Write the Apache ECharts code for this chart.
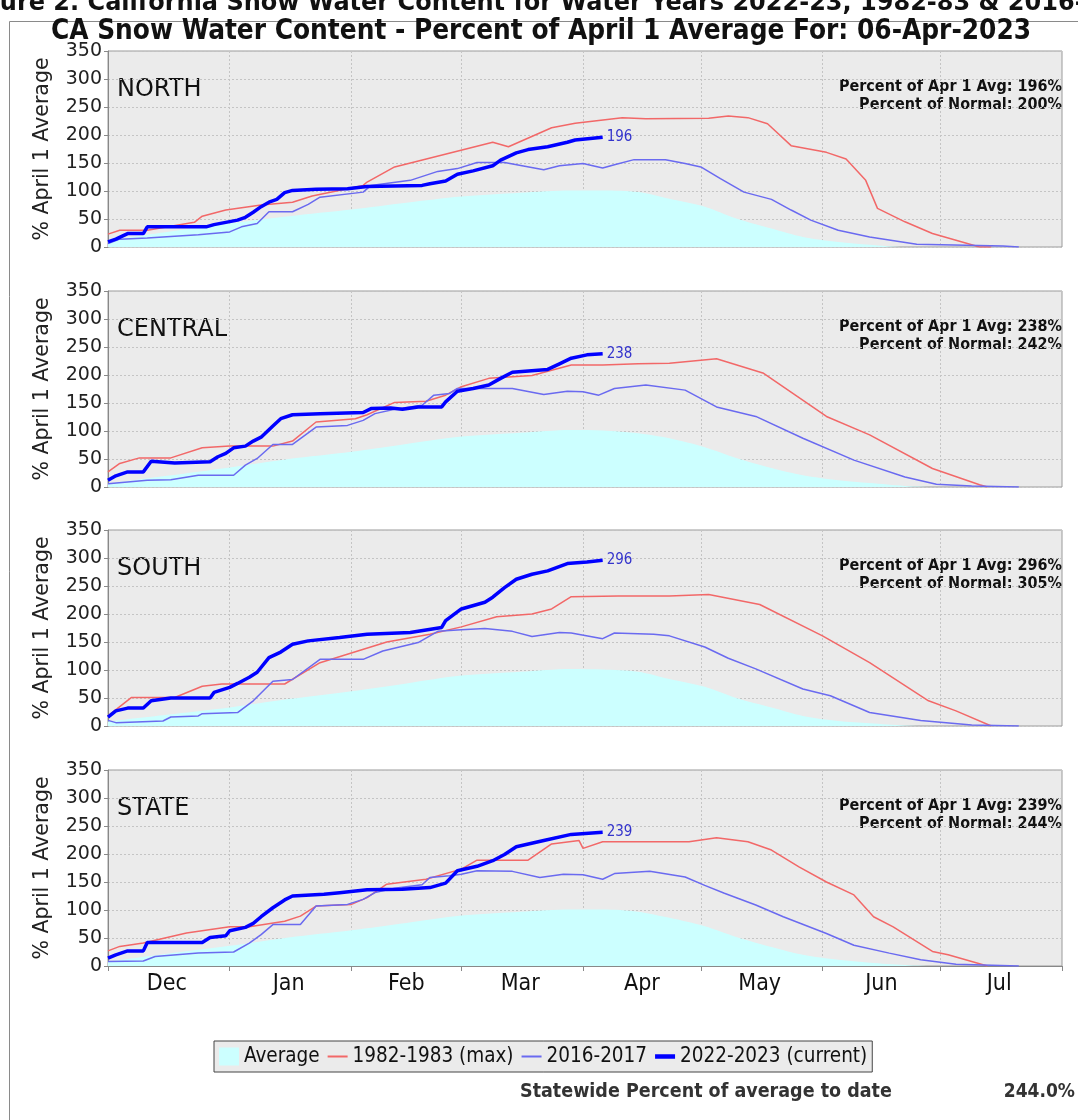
<!DOCTYPE html>
<html>
<head>
<meta charset="utf-8">
<script src="https://cdn.jsdelivr.net/npm/echarts@6/dist/echarts.min.js"></script>
<style>
html,body{margin:0;padding:0;background:#fff;}
#chart{width:1078px;height:1120px;}
</style>
</head>
<body>
<div id="chart"></div>
<script>
// x values: days since 2022-12-01 (category index on the daily axis)
const panelNames = ['NORTH', 'CENTRAL', 'SOUTH', 'STATE'];
const pctApr1 = [196, 238, 296, 239];
const pctNormal = [200, 242, 305, 244];
const monthLabels = ['Dec', 'Jan', 'Feb', 'Mar', 'Apr', 'May', 'Jun', 'Jul'];
const monthNums = ['12', '01', '02', '03', '04', '05', '06', '07'];
const legendNames = ['Average', '1982-1983 (max)', '2016-2017', '2022-2023 (current)'];
const statewideToDate = '244.0%';

const northAvg = [[0,12],[15,27],[31,42],[46,55],[62,67],[76,79],[90,90],[105,97],[118,101],[126,101],[135,98],[143,86],[152,72],[160,51],[169,33],[177,18],[186,9],[194,4],[203,0],[243,0]];
const north1983 = [[0,23],[3,30],[10,30],[22,44],[24,55],[30,66],[39,75],[47,80],[52,91],[65,110],[66,116],[73,143],[98,187],[102,179],[113,213],[119,221],[125,226],[131,231],[137,229],[153,230],[158,234],[163,231],[168,220],[174,181],[183,169],[188,157],[193,119],[196,69],[203,45],[210,24],[216,12],[222,0],[225,0]];
const north2016 = [[0,6],[3,14],[10,16],[23,22],[31,27],[34,36],[38,42],[41,63],[47,63],[51,76],[54,89],[65,98],[67,110],[77,119],[84,135],[89,140],[94,151],[101,151],[111,138],[115,145],[121,149],[126,141],[129,147],[134,156],[142,156],[147,149],[151,143],[156,122],[162,98],[169,85],[174,66],[179,48],[186,30],[194,18],[206,5],[228,2],[232,0]];
const northCurrent = [[0,9],[2,14],[5,24],[9,24],[10,36],[25,36],[27,40],[30,44],[33,48],[35,53],[37,62],[39,72],[41,80],[43,85],[45,97],[47,101],[53,103],[61,104],[66,108],[80,110],[82,113],[86,118],[89,130],[93,136],[98,145],[100,155],[104,168],[107,174],[112,179],[117,187],[119,191],[126,196]];

const centralAvg = [[0,6],[15,20],[31,35],[46,50],[62,63],[76,77],[90,90],[105,97],[118,102],[126,101],[135,96],[143,87],[152,71],[160,52],[169,34],[177,21],[186,12],[194,7],[203,2],[212,0],[243,0]];
const central1983 = [[0,27],[3,42],[8,52],[16,52],[24,70],[31,73],[42,73],[47,82],[53,116],[63,122],[66,129],[73,151],[81,153],[86,164],[90,179],[97,194],[108,199],[118,218],[126,218],[135,220],[143,221],[155,229],[167,203],[183,126],[194,93],[210,33],[222,4],[224,0]];
const central2016 = [[0,6],[10,12],[16,13],[23,21],[32,21],[35,39],[38,51],[42,76],[47,76],[53,107],[61,110],[65,119],[68,131],[73,139],[80,146],[83,164],[87,167],[89,176],[103,176],[111,165],[117,171],[121,170],[125,164],[129,176],[137,182],[147,173],[155,143],[165,126],[177,87],[190,48],[203,18],[211,5],[220,2],[232,0]];
const centralCurrent = [[0,12],[2,20],[5,27],[9,27],[11,46],[17,43],[26,45],[28,54],[30,60],[32,70],[35,73],[37,82],[39,89],[42,109],[44,122],[47,129],[54,131],[65,133],[67,140],[72,141],[75,139],[79,143],[85,143],[86,152],[89,171],[93,176],[97,182],[100,194],[103,205],[112,210],[115,220],[118,230],[122,236],[126,238]];

const southAvg = [[0,8],[15,20],[31,33],[46,48],[62,62],[76,76],[90,90],[105,97],[118,102],[126,101],[135,97],[143,84],[152,70],[160,50],[169,33],[177,18],[186,9],[194,5],[203,1],[210,0],[243,0]];
const south1983 = [[0,18],[6,51],[17,51],[24,71],[29,75],[45,75],[54,113],[71,150],[82,164],[90,177],[99,195],[108,200],[113,209],[118,231],[130,232],[143,232],[153,235],[166,217],[182,161],[194,113],[209,45],[216,27],[225,0]];
const south2016 = [[0,10],[2,6],[14,9],[16,16],[23,18],[24,22],[33,24],[37,45],[42,80],[47,83],[54,119],[65,119],[70,134],[79,149],[84,169],[90,172],[96,174],[103,169],[108,160],[115,167],[118,166],[126,156],[129,166],[139,164],[143,161],[152,141],[158,121],[165,102],[177,66],[184,54],[194,24],[207,10],[220,2],[232,0]];
const southCurrent = [[0,16],[2,27],[5,32],[9,32],[11,45],[16,50],[26,50],[27,60],[31,69],[33,76],[36,87],[38,96],[41,122],[44,132],[47,146],[51,152],[59,158],[66,164],[77,167],[85,176],[86,188],[90,209],[96,221],[98,230],[101,247],[104,262],[108,271],[112,277],[117,290],[122,293],[126,296]];

const stateAvg = [[0,8],[15,22],[31,36],[46,51],[62,64],[76,77],[90,90],[105,97],[118,101],[126,101],[135,97],[143,86],[152,71],[160,52],[169,34],[177,20],[186,11],[194,6],[203,2],[212,0],[243,0]];
const state1983 = [[0,27],[3,35],[9,41],[20,59],[31,70],[36,70],[45,80],[49,89],[53,107],[62,110],[66,122],[71,146],[81,155],[90,173],[94,189],[107,189],[113,218],[120,224],[121,210],[126,222],[148,222],[155,229],[163,222],[169,207],[176,177],[183,150],[190,127],[195,88],[200,70],[210,26],[214,20],[224,0]];
const state2016 = [[0,8],[9,9],[12,17],[23,23],[32,25],[36,41],[39,56],[42,74],[49,74],[53,107],[61,110],[65,119],[68,131],[73,139],[80,145],[82,158],[87,161],[90,164],[94,170],[103,169],[110,158],[116,164],[121,163],[126,155],[129,165],[138,169],[147,159],[152,144],[157,130],[165,109],[172,88],[183,58],[190,37],[199,23],[207,11],[216,3],[232,0]];
const stateCurrent = [[0,14],[2,20],[5,27],[9,27],[10,42],[24,42],[26,51],[30,54],[31,63],[35,69],[37,76],[39,88],[42,104],[45,118],[47,125],[55,128],[59,131],[66,136],[75,137],[82,140],[86,148],[89,170],[94,178],[98,188],[101,199],[104,213],[111,224],[118,235],[126,239]];

const panels = [
  [northAvg, north1983, north2016, northCurrent],
  [centralAvg, central1983, central2016, centralCurrent],
  [southAvg, south1983, south2016, southCurrent],
  [stateAvg, state1983, state2016, stateCurrent]
];

// daily category axis: 2022-12-01 .. 2023-08-01
const categories = [];
(function () {
  const d = new Date(Date.UTC(2022, 11, 1));
  const end = Date.UTC(2023, 7, 1);
  while (d.getTime() <= end) {
    categories.push(d.toISOString().slice(0, 10));
    d.setUTCDate(d.getUTCDate() + 1);
  }
})();

const COND = '"DejaVu Sans Condensed", "DejaVu Sans", sans-serif';
const SANS = '"DejaVu Sans", sans-serif';
const tops = [51, 291, 530, 770];
const plotH = 196;
const colors = { avg: '#ccffff', red: '#f26868', blue: '#6a6af0', cur: '#0000ff' };
const gridLine = { color: '#c4c4c4', type: [2, 2], width: 1 };

function isMonthStart(v) { return v.slice(8) === '01'; }
function isMid(v) { const m = v.slice(5, 7); return v.slice(8) === (m === '02' ? '15' : '16'); }

const grids = [], xAxes = [], yAxes = [], series = [], graphics = [];

tops.forEach((top, i) => {
  grids.push({ left: 108, width: 954, top: top, height: plotH, show: true,
    backgroundColor: '#ebebeb', borderColor: '#9a9a9a', borderWidth: 1 });
  xAxes.push({
    type: 'category', gridIndex: i, data: categories, boundaryGap: false,
    axisLine: { show: i === 3, lineStyle: { color: '#888' } },
    axisTick: { show: i === 3, interval: (idx, v) => isMonthStart(v), length: 5, lineStyle: { color: '#888' } },
    axisLabel: { show: i === 3, interval: (idx, v) => isMid(v), margin: 7,
      formatter: v => monthLabels[monthNums.indexOf(v.slice(5, 7))],
      fontFamily: COND, fontSize: 23, color: '#111' },
    splitLine: { show: true, interval: (idx, v) => isMonthStart(v) && idx > 0 && idx < categories.length - 1, lineStyle: gridLine }
  });
  yAxes.push({
    type: 'value', gridIndex: i, min: 0, max: 350, interval: 50,
    axisLine: { show: true, lineStyle: { color: '#888' } },
    axisTick: { show: true, length: 4, lineStyle: { color: '#888' } },
    axisLabel: { fontFamily: SANS, fontSize: 19, color: '#222', margin: 6 },
    splitLine: { show: true, lineStyle: gridLine },
    name: '% April 1 Average', nameLocation: 'middle', nameGap: 55,
    nameTextStyle: { fontFamily: SANS, fontSize: 20.5, color: '#222' }
  });
  const [avg, r83, b16, cur] = panels[i];
  series.push({ name: legendNames[0], type: 'line', xAxisIndex: i, yAxisIndex: i, data: avg,
    symbol: 'none', smooth: 0.3, lineStyle: { width: 0, color: colors.avg }, itemStyle: { color: colors.avg },
    areaStyle: { color: colors.avg, opacity: 1 }, z: 1, silent: true });
  series.push({ name: legendNames[1], type: 'line', xAxisIndex: i, yAxisIndex: i, data: r83,
    symbol: 'none', lineStyle: { width: 1.5, color: colors.red }, itemStyle: { color: colors.red }, z: 3 });
  series.push({ name: legendNames[2], type: 'line', xAxisIndex: i, yAxisIndex: i, data: b16,
    symbol: 'none', lineStyle: { width: 1.5, color: colors.blue }, itemStyle: { color: colors.blue }, z: 4 });
  series.push({ name: legendNames[3], type: 'line', xAxisIndex: i, yAxisIndex: i, data: cur,
    symbol: 'none', lineStyle: { width: 3.5, color: colors.cur }, itemStyle: { color: colors.cur }, z: 5,
    endLabel: { show: true, formatter: p => String(p.value[1]), color: '#3333cc',
      fontFamily: COND, fontSize: 15, distance: 4 } });

  graphics.push({ type: 'text', left: 117, top: top + 27,
    style: { text: panelNames[i], font: '24px ' + SANS, fill: '#111' } });
  graphics.push({ type: 'text', x: 1062, y: top + 36,
    style: { text: 'Percent of Apr 1 Avg: ' + pctApr1[i] + '%', font: 'bold 16px ' + COND, fill: '#111',
      textAlign: 'right', textVerticalAlign: 'middle' } });
  graphics.push({ type: 'text', x: 1062, y: top + 54,
    style: { text: 'Percent of Normal: ' + pctNormal[i] + '%', font: 'bold 16px ' + COND, fill: '#111',
      textAlign: 'right', textVerticalAlign: 'middle' } });
});

graphics.push({ type: 'rect', shape: { x: 9.5, y: 21.5, width: 1200, height: 1200 },
  style: { fill: 'none', stroke: '#8a8a8a', lineWidth: 1 }, z: -10 });
graphics.push({ type: 'text', x: -42, y: 16,
  style: { text: 'Figure 2. California Snow Water Content for Water Years 2022-23, 1982-83 & 2016-17',
    font: 'bold 24px "DejaVu Sans", sans-serif', fill: '#111', textVerticalAlign: 'bottom' } });
graphics.push({ type: 'text', x: 541, y: 32,
  style: { text: 'CA Snow Water Content - Percent of April 1 Average For: 06-Apr-2023',
    font: 'bold 27.7px ' + COND, fill: '#111', textAlign: 'center', textVerticalAlign: 'middle' } });
graphics.push({ type: 'text', x: 520, y: 1092,
  style: { text: 'Statewide Percent of average to date', font: 'bold 19.5px ' + COND, fill: '#333',
    textVerticalAlign: 'middle' } });
graphics.push({ type: 'text', x: 1075, y: 1092,
  style: { text: statewideToDate, font: 'bold 19px ' + COND, fill: '#333',
    textAlign: 'right', textVerticalAlign: 'middle' } });

const thinBar = 'path://M0,0 L20,0 L20,2 L0,2 Z';
const thickBar = 'path://M0,0 L20,0 L20,4.5 L0,4.5 Z';

const chart = echarts.init(document.getElementById('chart'), null, { renderer: 'canvas' });
chart.setOption({
  animation: false,
  backgroundColor: '#ffffff',
  grid: grids,
  xAxis: xAxes,
  yAxis: yAxes,
  legend: {
    data: [
      { name: legendNames[0], icon: 'rect', itemStyle: { color: colors.avg } },
      { name: legendNames[1], icon: thinBar, itemStyle: { color: colors.red } },
      { name: legendNames[2], icon: thinBar, itemStyle: { color: colors.blue } },
      { name: legendNames[3], icon: thickBar, itemStyle: { color: colors.cur } }
    ],
    left: 214, top: 1041, orient: 'horizontal',
    backgroundColor: '#ebebeb', borderColor: '#444', borderWidth: 1, borderRadius: 0,
    padding: [5, 5, 5, 5], itemGap: 8, itemWidth: 20, itemHeight: 18, symbolKeepAspect: true,
    textStyle: { fontFamily: COND, fontSize: 20.5, color: '#111' },
    selectedMode: false
  },
  series: series,
  graphic: graphics
});
</script>
</body>
</html>
